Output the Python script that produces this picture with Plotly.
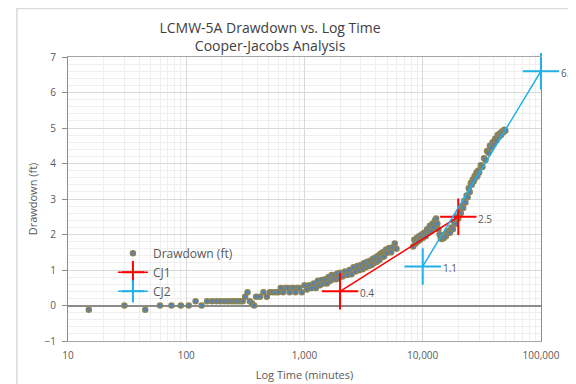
import math
import plotly.graph_objects as go

# Drawdown data (time in minutes, drawdown in ft)
time_min = [
    15, 30, 45, 60, 75, 90, 105, 120, 135,
    150, 165, 180, 195, 210, 225, 240, 255, 270, 285, 300,
    315, 330, 345, 360, 375,
    390, 420, 450, 480, 510, 540, 570, 600, 630, 660, 690, 720, 750, 780, 810, 840, 870, 900,
    950, 1000, 1050, 1100, 1150, 1200, 1250, 1300, 1350, 1400, 1450, 1500, 1550, 1600, 1650,
    1700, 1750, 1800, 1850, 1900, 1950, 2000, 2100, 2200, 2300, 2400, 2500, 2600, 2700, 2800,
    2900, 3000, 3100, 3200, 3300, 3400, 3500, 3600, 3700, 3800, 3900, 4000, 4100, 4200, 4300,
    4400, 4500, 4600, 4700, 4800, 4900, 5000, 5200, 5400, 5600, 5800, 6000,
    8300, 8500, 8700, 8900, 9100, 9300, 9500, 9800, 10000, 10300, 10600, 10900, 11200, 11500,
    11800, 12100, 12400, 12700, 13000, 13300, 13600, 13900, 14200, 14500, 14800, 15100, 15400,
    15700, 16000, 16500, 17000, 17500, 18000, 18500, 19000, 19500, 20000, 20500, 21000, 21500,
    22000, 22500, 23000, 23500, 24000, 24500, 25000, 25500, 26000, 26500, 27000, 27500, 28000,
    28500, 29000, 29500, 30000, 31000, 32000, 33000, 34000, 35000, 36000, 37000, 38000, 39000,
    40000, 41000, 42000, 43000, 44000, 45000, 46000, 47000, 48000, 49000, 50000,
]
drawdown_ft = [
    -0.12, 0, -0.12, 0, 0, 0, 0, 0.12, 0,
    0.12, 0.12, 0.12, 0.12, 0.12, 0.12, 0.12, 0.12, 0.12, 0.12, 0.12,
    0.25, 0.37, 0.12, 0.06, 0,
    0.25, 0.25, 0.37, 0.25, 0.37, 0.37, 0.37, 0.37, 0.49, 0.37, 0.49, 0.49, 0.37, 0.49, 0.49, 0.37, 0.49, 0.49,
    0.37, 0.57, 0.45, 0.57, 0.49, 0.62, 0.49, 0.70, 0.57, 0.72, 0.62, 0.74, 0.62, 0.80, 0.70,
    0.86, 0.74, 0.86, 0.74, 0.90, 0.78, 0.92, 0.82, 0.96, 0.86, 1.00, 0.88, 1.08, 0.96, 1.11,
    0.99, 1.14, 1.02, 1.20, 1.08, 1.23, 1.11, 1.26, 1.14, 1.32, 1.20, 1.36, 1.23, 1.40, 1.28,
    1.46, 1.36, 1.50, 1.38, 1.52, 1.58, 1.48, 1.62, 1.50, 1.64, 1.75, 1.60,
    1.66, 1.85, 1.75, 1.90, 1.80, 1.95, 1.85, 2.00, 1.90, 2.05, 1.95, 2.15, 2.05, 2.25,
    2.10, 2.30, 2.20, 2.40, 2.45, 2.30, 2.15, 2.00, 1.90, 1.87, 1.95, 1.90, 2.00,
    1.95, 2.05, 2.10, 2.05, 2.20, 2.15, 2.35, 2.30, 2.50, 2.45, 2.65, 2.60, 2.80,
    2.75, 2.95, 2.90, 3.10, 3.05, 3.30, 3.20, 3.45, 3.40, 3.55, 3.50, 3.65, 3.60,
    3.75, 3.65, 3.80, 3.75, 3.95, 3.90, 4.15, 4.10, 4.35, 4.30, 4.50, 4.45, 4.60,
    4.55, 4.70, 4.65, 4.80, 4.75, 4.85, 4.80, 4.90, 4.88, 4.95, 4.92,
]

# Cooper-Jacob straight-line fits
cj1_time = [2000, 20000]
cj1_dd = [0.4, 2.5]
cj2_time = [10000, 100000]
cj2_dd = [1.1, 6.6]

x_tickvals = [10, 100, 1000, 10000, 100000]
x_ticktext = ["10", "100", "1,000", "10,000", "100,000"]

grey = "#595959"
fig = go.Figure()

fig.add_trace(go.Scatter(
    x=time_min, y=drawdown_ft, mode="markers", name="Drawdown (ft)",
    marker=dict(size=5, color="#4f81bd", line=dict(color="#8c8456", width=1.5)),
))
fig.add_trace(go.Scatter(
    x=cj1_time, y=cj1_dd, mode="lines+markers", name="CJ1", cliponaxis=False,
    line=dict(color="#ff0000", width=1.5),
    marker=dict(symbol="cross-thin", size=26, color="#ff0000",
                line=dict(color="#ff0000", width=2)),
))
fig.add_trace(go.Scatter(
    x=cj2_time, y=cj2_dd, mode="lines+markers", name="CJ2", cliponaxis=False,
    line=dict(color="#1fb0e8", width=1.5),
    marker=dict(symbol="cross-thin", size=26, color="#1fb0e8",
                line=dict(color="#1fb0e8", width=2)),
))

# data labels next to the fit end points (log axis -> annotation x in log10 units)
for xs, ys in ((cj1_time, cj1_dd), (cj2_time, cj2_dd)):
    for xv, yv in zip(xs, ys):
        fig.add_annotation(x=math.log10(xv), y=yv, xref="x", yref="y", text=f"{yv:g}",
                           showarrow=False, xanchor="left", xshift=18, yshift=-2,
                           font=dict(size=10, color=grey))

# outer chart border
fig.add_shape(type="rect", xref="paper", yref="paper", x0=-0.108, x1=1.12,
              y0=-0.25, y1=1.171, line=dict(color="#d9d9d9", width=1.5),
              fillcolor="rgba(0,0,0,0)", layer="below")

fig.update_layout(
    width=576, height=384,
    margin=dict(l=60, r=43, t=49, b=51),
    paper_bgcolor="white", plot_bgcolor="white",
    font=dict(family="Open Sans, Liberation Sans, sans-serif", color=grey),
    title=dict(text="LCMW-5A Drawdown vs. Log Time<br>Cooper-Jacobs Analysis",
               x=0.455, xanchor="center", y=0.936, yanchor="top",
               font=dict(size=14, color="#404040")),
    showlegend=True,
    legend=dict(x=0.095, y=0.36, xanchor="left", yanchor="top",
                bgcolor="rgba(255,255,255,0)", font=dict(size=12, color=grey),
                tracegroupgap=0),
)
fig.update_xaxes(
    type="log", range=[1, 5.0005], tickvals=x_tickvals, ticktext=x_ticktext,
    showgrid=True, gridcolor="#d9d9d9", gridwidth=1,
    minor=dict(showgrid=True, gridcolor="#efefef", dtick="D1"),
    showline=True, linecolor="#a6a6a6", mirror=True,
    ticks="", ticklabelstandoff=5, tickfont=dict(size=10, color=grey),
    title=dict(text="Log Time (minutes)", font=dict(size=11, color=grey), standoff=10),
)
fig.update_yaxes(
    range=[-1, 7], dtick=1, showgrid=True, gridcolor="#d9d9d9", gridwidth=1,
    minor=dict(showgrid=True, gridcolor="#efefef", dtick=0.2),
    zeroline=True, zerolinecolor="#8c8c8c", zerolinewidth=1.5,
    showline=True, linecolor="#8c8c8c", mirror=True,
    ticks="outside", ticklen=5, tickcolor="#8c8c8c", ticklabelstandoff=4,
    tickfont=dict(size=10, color=grey),
    title=dict(text="Drawdown (ft)", font=dict(size=11, color=grey), standoff=4),
)

fig.write_html("out.html")
